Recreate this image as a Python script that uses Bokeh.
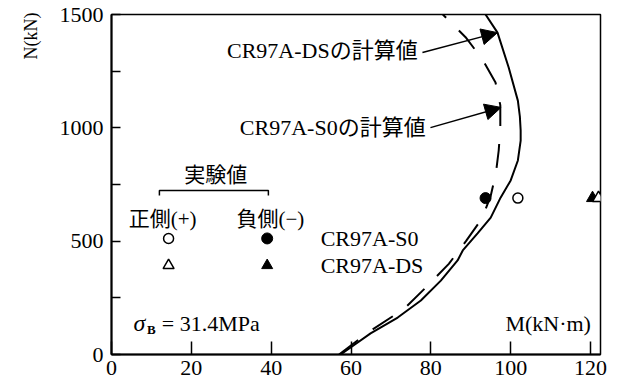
from bokeh.plotting import figure
from bokeh.models import FixedTicker, Range1d, Arrow, NormalHead, Title
from bokeh.core.properties import value
from bokeh.embed import file_html
from bokeh.resources import INLINE

# ---- data ----
# calculated N-M curve, CR97A-DS (solid)
ds_N = [0, 31, 93, 163, 238, 326, 415, 459, 534, 604, 693, 768, 856, 944, 988, 1050, 1120, 1266, 1420, 1500]
ds_M = [57.4, 59.9, 64.9, 71.7, 77.5, 82.5, 86.7, 88.0, 91.7, 95.0, 97.5, 100.0, 101.8, 102.5, 102.5, 102.3, 101.8, 99.5, 96.7, 93.7]
# calculated N-M curve, CR97A-S0 (dashed)
s0_N = [0, 100, 200, 300, 400, 500, 600, 700, 800, 900, 1000, 1100, 1200, 1300, 1400, 1500]
s0_M = [57.0, 64.5, 73.2, 79.0, 84.5, 88.8, 92.8, 95.0, 96.3, 97.0, 97.4, 97.4, 96.2, 93.0, 88.7, 83.0]
# experimental values
exp_N = 690
s0_pos_M = [101.8]   # open circle  (positive side)
s0_neg_M = [93.7]    # filled circle (negative side)
ds_pos_M = [122.0]   # open triangle
ds_neg_M = [120.5]   # filled triangle

x_ticks = [0, 20, 40, 60, 80, 100, 120]
y_ticks = [0, 500, 1000, 1500]
y_minor = [250, 750, 1250]

# legend layout values (data units)
leg_pos_x = 14.3
leg_neg_x = 39.0
leg_row_y = [512, 393]
leg_names = ["CR97A-S0", "CR97A-DS"]

SERIF = "Liberation Serif, Noto Sans CJK JP"
JP = "Noto Sans CJK JP"

p = figure(width=620, height=391, output_backend="svg", toolbar_location=None,
           min_border_left=111, min_border_right=20, min_border_top=14, min_border_bottom=37,
           x_range=Range1d(0, 122.5), y_range=Range1d(0, 1500))
p.background_fill_color = "white"
p.border_fill_color = "white"
p.grid.visible = False
p.outline_line_color = "black"
p.outline_line_width = 1.5

for ax in (p.xaxis[0], p.yaxis[0]):
    ax.axis_line_width = 2
    ax.axis_line_color = "black"
    ax.major_tick_out = 0
    ax.minor_tick_out = 0
    ax.major_tick_line_width = 1.5
    ax.minor_tick_line_width = 1.5
    ax.major_label_text_font = "Liberation Serif"
    ax.major_label_text_font_size = "22px"
    ax.major_label_text_color = "black"

p.xaxis.ticker = FixedTicker(ticks=x_ticks, minor_ticks=[])
p.xaxis.major_tick_in = 13
p.xaxis.major_label_standoff = 6
p.yaxis.ticker = FixedTicker(ticks=y_ticks, minor_ticks=y_minor)
p.yaxis.major_tick_in = 9
p.yaxis.minor_tick_in = 9
p.yaxis.major_label_standoff = 8

# y-axis title placed at the top-left, reading upward
p.add_layout(Title(text="N(kN)", align="right", text_font="Liberation Serif",
                   text_font_size="18px", text_font_style="normal", text_color="black",
                   standoff=31, offset=-2), "left")

# curves
p.line(ds_M, ds_N, line_color="black", line_width=2)
p.line(s0_M, s0_N, line_color="black", line_width=2, line_dash="24 18")

# experimental points
p.scatter(s0_neg_M, [exp_N], marker="circle", size=11, fill_color="black", line_color="black")
p.scatter(s0_pos_M, [exp_N], marker="circle", size=10, fill_color="white", line_color="black", line_width=1.5)
p.scatter(ds_neg_M, [exp_N], marker="triangle", size=12, fill_color="black", line_color="black")
p.scatter(ds_pos_M, [exp_N], marker="triangle", size=12, fill_color="white", line_color="black", line_width=1.5)

# legend markers
p.scatter([leg_pos_x], [leg_row_y[0]], marker="circle", size=10, fill_color="white", line_color="black", line_width=1.5)
p.scatter([leg_neg_x], [leg_row_y[0]], marker="circle", size=11, fill_color="black", line_color="black")
p.scatter([leg_pos_x], [leg_row_y[1]], marker="triangle", size=11, fill_color="white", line_color="black", line_width=1.5)
p.scatter([leg_neg_x], [leg_row_y[1]], marker="triangle", size=11, fill_color="black", line_color="black")
p.text([52.4, 52.4], leg_row_y, text=leg_names, text_font=value(SERIF), text_font_size="22px",
       text_align="left", text_baseline="middle", text_color="black")

# legend header
p.text([26.1], [800], text=["実験値"], text_font=value(JP), text_font_size="21px",
       text_align="center", text_baseline="middle", text_color="black")
p.line([12.0, 12.0, 39.3, 39.3], [701, 723, 723, 701], line_color="black", line_width=1.5)
p.text([12.8, 39.8], [600, 600], text=["正側(+)", "負側(−)"], text_font=value(SERIF), text_font_size="21px",
       text_align="center", text_baseline="middle", text_color="black")

# calculated value labels + arrows
p.text([76.7], [1341], text=["CR97A-DSの計算値"], text_font=value(SERIF), text_font_size="22px",
       text_align="right", text_baseline="middle", text_color="black")
p.text([78.7], [1001], text=["CR97A-S0の計算値"], text_font=value(SERIF), text_font_size="22px",
       text_align="right", text_baseline="middle", text_color="black")
p.add_layout(Arrow(x_start=77.9, y_start=1332, x_end=96.7, y_end=1420, line_width=1.5,
                   end=NormalHead(size=16, fill_color="black", line_color="black")))
p.add_layout(Arrow(x_start=79.9, y_start=1001, x_end=97.6, y_end=1090, line_width=1.5,
                   end=NormalHead(size=16, fill_color="black", line_color="black")))

# sigma_B text
p.text([5.5], [137], text=["σ"], text_font=value("Liberation Serif"), text_font_style="italic",
       text_font_size="24px", text_align="left", text_baseline="middle", text_color="black")
p.text([8.9], [112], text=["B"], text_font=value("Liberation Serif"), text_font_style="bold",
       text_font_size="13px", text_align="left", text_baseline="middle", text_color="black")
p.text([12.6], [137], text=["= 31.4MPa"], text_font=value("Liberation Serif"),
       text_font_size="22px", text_align="left", text_baseline="middle", text_color="black")

# x axis title inside the frame
p.text([120.1], [137], text=["M(kN·m)"], text_font=value("Liberation Serif"),
       text_font_size="22px", text_align="right", text_baseline="middle", text_color="black")

open("out.html", "w").write(file_html(p, INLINE))
